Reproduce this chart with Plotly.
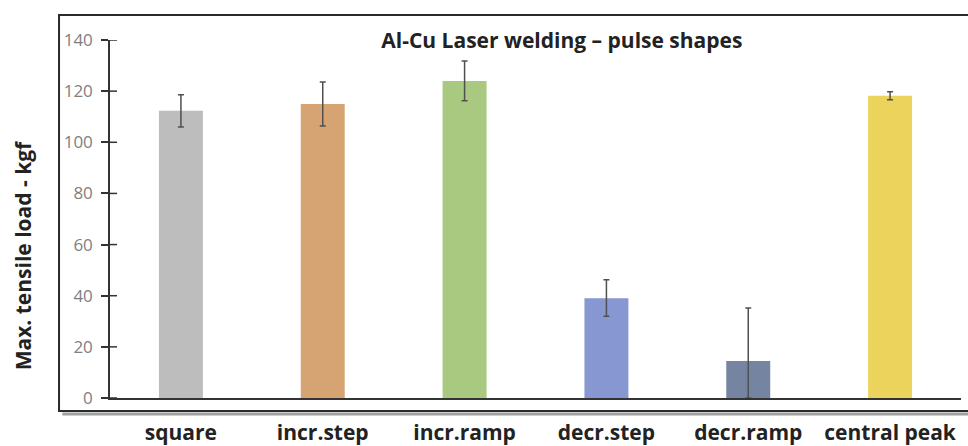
import plotly.graph_objects as go

categories = ["square", "incr.step", "incr.ramp", "decr.step", "decr.ramp", "central peak"]
values = [112.3, 115.0, 124.0, 39.0, 14.5, 118.2]
err_plus = [6.3, 8.6, 7.8, 7.2, 20.7, 1.6]
err_minus = [6.3, 8.6, 7.8, 7.0, 14.5, 1.6]
colors = ["#BDBDBD", "#D6A472", "#A8C97F", "#8797D1", "#7584A1", "#EBD35C"]
y_ticks = [0, 20, 40, 60, 80, 100, 120, 140]

FONT = "Open Sans"

fig = go.Figure()
fig.add_trace(go.Bar(
    x=categories, y=values,
    marker=dict(color=colors, line=dict(width=0)),
    error_y=dict(type="data", symmetric=False, array=err_plus, arrayminus=err_minus,
                 color="#505050", thickness=1.5, width=3),
    showlegend=False,
))

shapes = [
    dict(type="line", xref="paper", yref="paper", x0=-0.056, x1=1.02, y0=-0.045, y1=-0.045,
         line=dict(color="#A0A0A0", width=3), layer="below"),
    dict(type="rect", xref="paper", yref="paper", x0=-0.0599, x1=1.02, y0=-0.0363, y1=1.0698,
         line=dict(color="#2a2a2a", width=2), fillcolor="rgba(0,0,0,0)", layer="below"),
]
# inner half of the crossing y tick marks (outer half drawn by the axis itself)
for v in y_ticks:
    shapes.append(dict(type="line", xref="paper", yref="y", x0=0, x1=0.0082, y0=v, y1=v,
                       line=dict(color="#333333", width=1.5), layer="above"))

fig.update_layout(
    width=968, height=446,
    margin=dict(l=110, r=7, t=40, b=48, autoexpand=False),
    paper_bgcolor="white", plot_bgcolor="white",
    bargap=0.69,
    title=dict(text="<b>Al-Cu Laser welding – pulse shapes</b>",
               font=dict(family=FONT, size=21, color="#222222"),
               xref="paper", x=0.531, xanchor="center",
               yref="container", y=0.908, yanchor="middle"),
    xaxis=dict(
        automargin=False,
        showline=True, linecolor="#333333", linewidth=1.5,
        ticks="", showgrid=False,
        tickfont=dict(family=FONT, size=21, color="#222222", weight="bold"),
        ticklabelstandoff=15,
    ),
    yaxis=dict(
        automargin=False,
        range=[0, 140], tickvals=y_ticks,
        showline=True, linecolor="#333333", linewidth=1.5,
        ticks="outside", ticklen=7, tickwidth=1.5, tickcolor="#333333",
        showgrid=False, zeroline=False,
        tickfont=dict(family=FONT, size=17, color="#808080"),
        ticklabelstandoff=5,
    ),
    annotations=[
        dict(text="<b>Max. tensile load - kgf</b>", textangle=-90,
             xref="paper", yref="paper", x=-0.102, y=0.399,
             xanchor="center", yanchor="middle", showarrow=False,
             font=dict(family=FONT, size=21, color="#222222")),
    ],
    shapes=shapes,
)

fig.write_html("out.html")
